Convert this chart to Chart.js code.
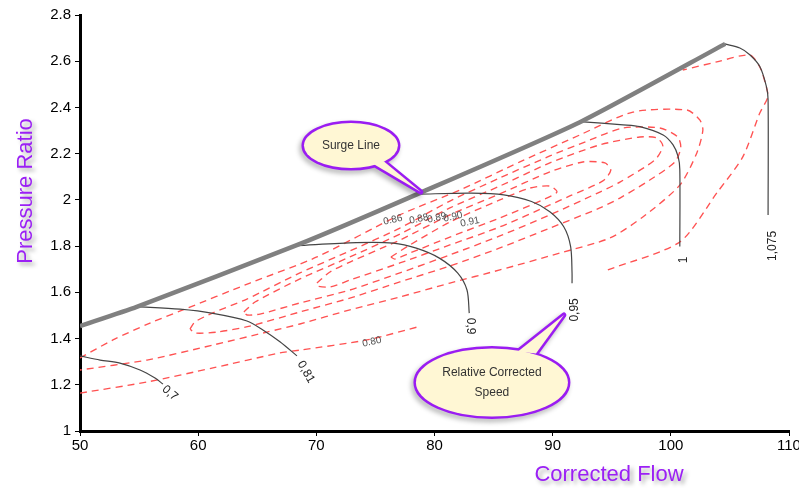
<!DOCTYPE html>
<html>
<head>
<meta charset="utf-8">
<script src="https://cdn.jsdelivr.net/npm/chart.js@4.4.1/dist/chart.umd.min.js"></script>
<style>
  body { margin: 0; background: #fff; }
  #map { display: block; }
</style>
</head>
<body>
<canvas id="map" width="799" height="488"></canvas>
<script>
// Axis ranges
var flowRange = [50, 110];
var ratioRange = [1, 2.8];

// Surge line (corrected flow, pressure ratio)
var surgeLine = [[50,1.454],[54.8,1.537],[68.4,1.805],[78.5,2.024],[92.3,2.336],[104.6,2.675]];

// Relative corrected speed lines
var speed070 = [[50,1.325],[51.7,1.307],[53.38,1.294],[55.08,1.264],[56.35,1.229],[57.02,1.203]];
var speed081 = [[54.8,1.538],[58.46,1.527],[61.25,1.509],[64.13,1.476],[65.48,1.437],[66.92,1.386],[68.36,1.325]];
var speed090 = [[68.33,1.802],[73.39,1.815],[76.51,1.813],[78.46,1.791],[80.41,1.748],[81.97,1.683],[82.75,1.610],[82.94,1.510]];
var speed095 = [[78.65,2.025],[83.13,2.029],[85.86,2.022],[88.21,1.993],[89.76,1.949],[90.94,1.884],[91.52,1.798],[91.64,1.683],[91.64,1.639]];
var speed100 = [[92.30,2.339],[95.96,2.325],[97.38,2.317],[99.35,2.281],[100.19,2.238],[100.62,2.187],[100.76,2.130],[100.76,1.798]];
var speed1075 = [[104.57,2.675],[105.84,2.657],[106.68,2.628],[107.53,2.577],[108.09,2.490],[108.23,2.433],[108.23,1.935]];

// Efficiency contours
var eff91 = [[76.31,1.753],[77.92,1.805],[81.30,1.904],[85.53,2.000],[88.07,2.051],[89.76,2.060],[90.36,2.034],[89.34,2.004],[85.53,1.922],[81.30,1.839],[77.92,1.770],[76.65,1.744],[76.31,1.753]];
var eff90 = [[70.05,1.640],[71.15,1.688],[72.84,1.731],[77.07,1.826],[81.30,1.935],[85.53,2.026],[89.76,2.121],[92.55,2.164],[94.42,2.160],[94.92,2.129],[94.25,2.082],[91.45,2.017],[89.76,1.978],[85.53,1.883],[81.30,1.805],[77.07,1.727],[72.84,1.653],[71.15,1.623],[70.13,1.627],[70.05,1.640]];
var eff89 = [[63.87,1.515],[64.81,1.558],[68.61,1.658],[72.84,1.753],[77.07,1.852],[81.30,1.965],[85.53,2.060],[89.76,2.160],[93.99,2.238],[97.38,2.272],[98.81,2.268],[99.32,2.233],[98.65,2.173],[95.69,2.077],[93.99,2.034],[89.76,1.935],[85.53,1.844],[81.30,1.762],[77.07,1.684],[72.84,1.610],[68.61,1.554],[65.23,1.506],[64.13,1.502],[63.87,1.515]];
var eff88 = [[59.31,1.441],[59.73,1.472],[61.25,1.511],[64.13,1.571],[68.61,1.684],[72.84,1.779],[77.07,1.878],[81.30,1.995],[85.53,2.095],[89.76,2.190],[93.15,2.259],[95.94,2.311],[99.07,2.311],[100.59,2.272],[100.84,2.225],[100.34,2.164],[98.22,2.086],[95.69,2.008],[93.99,1.965],[89.76,1.878],[85.53,1.792],[81.30,1.714],[77.07,1.645],[72.84,1.575],[68.61,1.515],[64.38,1.454],[61.59,1.428],[59.73,1.424],[59.31,1.441]];
var eff86 = [[50,1.316],[52.79,1.394],[55.92,1.467],[58.71,1.524],[64.38,1.640],[70.05,1.753],[77.07,1.935],[82.15,2.043],[87.22,2.164],[92.30,2.281],[96.79,2.380],[101.35,2.389],[102.45,2.346],[102.71,2.302],[102.20,2.203],[100.76,2.064],[97.63,1.926],[94.84,1.835],[90.61,1.770],[85.53,1.697],[81.30,1.640],[77.07,1.580],[72.84,1.524],[68.61,1.463],[65.82,1.428],[61.25,1.372],[55.67,1.307],[50,1.264]];
var eff80Low = [[50,1.164],[55.67,1.212],[61.25,1.273],[66.92,1.338],[68.61,1.350],[74.28,1.394],[78.85,1.454]];
var eff80High = [[94.67,1.697],[100.76,1.818],[103.89,2.030],[106.09,2.186],[107.53,2.376],[108.21,2.445],[108.04,2.497],[107.53,2.575],[106.68,2.627],[103.89,2.597],[101.01,2.562]];

// Line labels: text, x, y, angle (deg)
var speedLabels = [['0,7',57.61,1.164,40],['0,81',69.12,1.255,60],['0,9',82.99,1.454,90],['0,95',91.88,1.524,-90],['1',101.1,1.740,-90],['1,075',108.63,1.801,-90]];
var effLabels = [['0.86',76.48,1.913],['0.88',78.68,1.917],['0.89',80.2,1.922],['0.90',81.56,1.926],['0.91',83.0,1.904],['0.80',74.7,1.385]];

// Callouts: lines of text, centre x, y, tip x, y
var surgeCallout = [['Surge Line'], 72.93, 2.235, 78.85, 2.034];
var speedCallout = [['Relative Corrected', 'Speed'], 84.86, 1.210, 90.95, 1.502];

function pts(arr) {
	return arr.map(function(p) { return {x: p[0], y: p[1]}; });
}

var RED = '#ff5252';
var DARK = '#454545';

function effSet(arr) {
	return { data: pts(arr), borderColor: RED, borderWidth: 1.35, borderDash: [7, 5],
		pointRadius: 0, showLine: true, tension: 0.25, fill: false };
}
function speedSet(arr) {
	return { data: pts(arr), borderColor: DARK, borderWidth: 1.2,
		pointRadius: 0, showLine: true, tension: 0.3, fill: false };
}

var datasets = [
	{ data: pts(surgeLine), borderColor: '#808080', borderWidth: 4.5, pointRadius: 0, showLine: true, tension: 0.2 },
	speedSet(speed070), speedSet(speed081), speedSet(speed090), speedSet(speed095), speedSet(speed100), speedSet(speed1075),
	effSet(eff91), effSet(eff90), effSet(eff89), effSet(eff88), effSet(eff86), effSet(eff80Low), effSet(eff80High)
];

var decorPlugin = {
	id: 'decor',
	afterDatasetsDraw: function(chart) {
		var ctx = chart.ctx, xs = chart.scales.x, ys = chart.scales.y;
		ctx.save();
		// efficiency labels
		ctx.font = '10px "Liberation Sans", Arial, sans-serif';
		ctx.fillStyle = '#505050';
		ctx.textAlign = 'center';
		ctx.textBaseline = 'middle';
		effLabels.forEach(function(l) {
			ctx.save();
			ctx.translate(xs.getPixelForValue(l[1]), ys.getPixelForValue(l[2]));
			ctx.rotate(-12 * Math.PI / 180);
			ctx.fillText(l[0], 0, 0);
			ctx.restore();
		});
		// speed labels
		ctx.font = '12px "Liberation Sans", Arial, sans-serif';
		ctx.fillStyle = '#222';
		speedLabels.forEach(function(l) {
			ctx.save();
			ctx.translate(xs.getPixelForValue(l[1]), ys.getPixelForValue(l[2]));
			ctx.rotate(l[3] * Math.PI / 180);
			ctx.fillText(l[0], 0, 0);
			ctx.restore();
		});
		// callouts
		drawCallout(ctx, xs, ys, surgeCallout, 47, 22.5, [[20, 17], [33, 16]]);
		drawCallout(ctx, xs, ys, speedCallout, 76, 34, [[26, -31], [44, -29]]);
		ctx.restore();
	},
	afterDraw: function(chart) {
		var ctx = chart.ctx;
		ctx.save();
		ctx.font = '22px "Liberation Sans", Arial, sans-serif';
		ctx.fillStyle = '#9b20f5';
		ctx.textAlign = 'center';
		ctx.textBaseline = 'middle';
		ctx.shadowColor = 'rgba(0,0,0,0.35)';
		ctx.shadowOffsetX = 3;
		ctx.shadowOffsetY = 3;
		ctx.shadowBlur = 4;
		ctx.fillText('Corrected Flow', 609, 475);
		ctx.translate(26, 191);
		ctx.rotate(-Math.PI / 2);
		ctx.fillText('Pressure Ratio', 0, 0);
		ctx.restore();
	}
};

function drawCallout(ctx, xs, ys, c, rx, ry, base) {
	var cx = xs.getPixelForValue(c[1]), cy = ys.getPixelForValue(c[2]);
	var tx = xs.getPixelForValue(c[3]), ty = ys.getPixelForValue(c[4]);
	function wedge() {
		ctx.moveTo(cx + base[0][0], cy + base[0][1]);
		ctx.lineTo(tx, ty);
		ctx.lineTo(cx + base[1][0], cy + base[1][1]);
		ctx.closePath();
	}
	ctx.save();
	ctx.shadowColor = 'rgba(0,0,0,0.3)';
	ctx.shadowOffsetX = -2;
	ctx.shadowOffsetY = 3;
	ctx.shadowBlur = 5;
	ctx.strokeStyle = '#9a1cf2';
	ctx.lineWidth = 5;
	ctx.lineJoin = 'round';
	ctx.beginPath();
	ctx.ellipse(cx, cy, rx, ry, 0, 0, Math.PI * 2);
	wedge();
	ctx.stroke();
	ctx.restore();
	ctx.save();
	ctx.fillStyle = '#fff7d4';
	ctx.beginPath();
	ctx.ellipse(cx, cy, rx, ry, 0, 0, Math.PI * 2);
	ctx.fill();
	ctx.beginPath();
	wedge();
	ctx.fill();
	ctx.fillStyle = '#333';
	ctx.font = '12px "Liberation Sans Narrow", "Liberation Sans", Arial, sans-serif';
	ctx.textAlign = 'center';
	ctx.textBaseline = 'middle';
	var lines = c[0];
	var step = 20;
	lines.forEach(function(t, i) {
		ctx.fillText(t, cx, cy + (i - (lines.length - 1) / 2) * step);
	});
	ctx.restore();
}

var tickFont = { family: '"Liberation Sans", Arial, sans-serif', size: 15 };

new Chart(document.getElementById('map'), {
	type: 'scatter',
	data: { datasets: datasets },
	options: {
		responsive: false,
		animation: false,
		layout: { padding: { top: 15, right: 10, left: 0, bottom: 0 } },
		plugins: { legend: { display: false }, tooltip: { enabled: false } },
		scales: {
			x: {
				type: 'linear', min: flowRange[0], max: flowRange[1],
				ticks: { stepSize: 10, color: '#000', font: tickFont, padding: 1 },
				grid: { drawOnChartArea: false, drawTicks: true, tickLength: 5, color: '#000', lineWidth: 1 },
				border: { display: true, color: '#000', width: 3 },
				afterFit: function(s) { s.height = 57; s.paddingLeft = 0; s.paddingRight = 0; }
			},
			y: {
				type: 'linear', min: ratioRange[0], max: ratioRange[1],
				ticks: {
					stepSize: 0.2, color: '#000', font: tickFont, padding: 4,
					callback: function(v) { return String(Math.round(v * 10) / 10); }
				},
				grid: { drawOnChartArea: false, drawTicks: true, tickLength: 5, color: '#000', lineWidth: 1 },
				border: { display: true, color: '#000', width: 3 },
				afterFit: function(s) { s.width = 80; s.paddingTop = 0; s.paddingBottom = 0; }
			}
		}
	},
	plugins: [decorPlugin]
});
</script>
</body>
</html>
